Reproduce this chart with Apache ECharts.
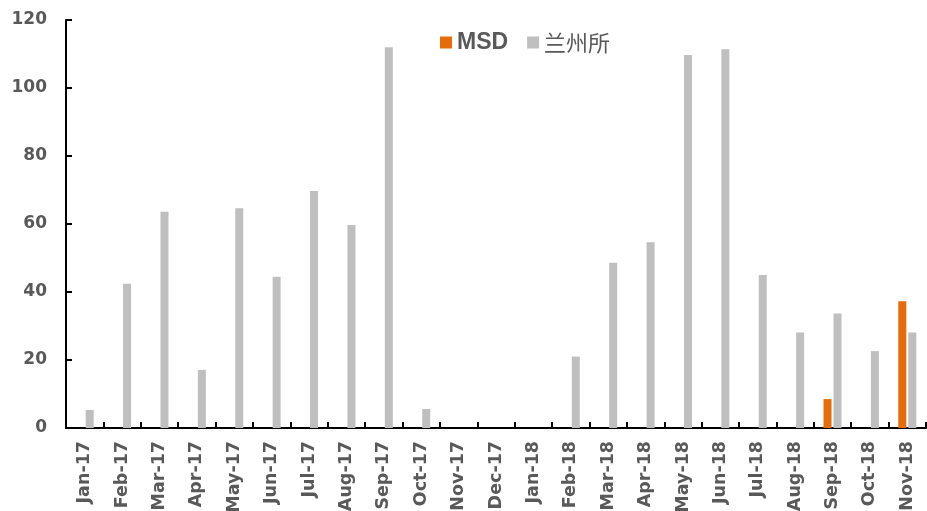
<!DOCTYPE html>
<html>
<head>
<meta charset="utf-8">
<script src="https://cdn.jsdelivr.net/npm/echarts@6/dist/echarts.min.js"></script>
<style>html,body{margin:0;padding:0;background:#fff}#c{width:927px;height:511px}</style>
</head>
<body>
<div id="c"></div>
<script>
var categories = ['Jan-17','Feb-17','Mar-17','Apr-17','May-17','Jun-17','Jul-17','Aug-17','Sep-17','Oct-17','Nov-17','Dec-17','Jan-18','Feb-18','Mar-18','Apr-18','May-18','Jun-18','Jul-18','Aug-18','Sep-18','Oct-18','Nov-18'];
var msdValues = [null,null,null,null,null,null,null,null,null,null,null,null,null,null,null,null,null,null,null,null,8.5,null,37.3];
var lanzhouValues = [5.3,42.4,63.6,17.1,64.6,44.5,69.7,59.7,112,5.6,null,null,null,21,48.6,54.6,109.7,111.4,45,28.1,33.7,22.6,28.1];
var yTicks = {min:0, max:120, interval:20};

var chart = echarts.init(document.getElementById('c'), null, {renderer:'canvas'});
var FONT = 'DejaVu Sans, sans-serif';
chart.setOption({
  animation:false,
  grid:{left:66, right:1, top:20, bottom:83, containLabel:false, outerBoundsMode:'none'},
  legend:{
    left:440, top:31, padding:0, itemWidth:12, itemHeight:12, itemGap:19, icon:'rect',
    textStyle:{color:'#595959', fontWeight:'bold', fontSize:23, fontFamily:'Liberation Sans, Arial, sans-serif'},
    data:[{name:'MSD'},{name:'兰州所', textStyle:{fontFamily:'Noto Sans CJK SC', fontWeight:'normal', fontSize:22, color:'#595959'}}]
  },
  xAxis:{
    type:'category', data:categories, boundaryGap:true,
    axisLine:{show:true, lineStyle:{color:'#000', width:2}},
    axisTick:{show:true, inside:true, length:6, lineStyle:{color:'#000', width:2}},
    axisLabel:{rotate:90, margin:13, interval:0, fontSize:17.5, color:'#595959', fontWeight:'bold', fontFamily:FONT},
    splitLine:{show:false}
  },
  yAxis:{
    type:'value', min:yTicks.min, max:yTicks.max, interval:yTicks.interval,
    axisLine:{show:true, lineStyle:{color:'#000', width:2}},
    axisTick:{show:true, inside:true, length:6, lineStyle:{color:'#000', width:2}},
    axisLabel:{margin:19, fontSize:17, color:'#595959', fontWeight:'bold', fontFamily:FONT},
    splitLine:{show:false}
  },
  series:[
    {name:'MSD', type:'bar', data:msdValues, barWidth:8, barGap:'25%', itemStyle:{color:'#E46C0A'}},
    {name:'兰州所', type:'bar', data:lanzhouValues, barWidth:8, itemStyle:{color:'#BFBFBF'}}
  ]
});
</script>
</body>
</html>
